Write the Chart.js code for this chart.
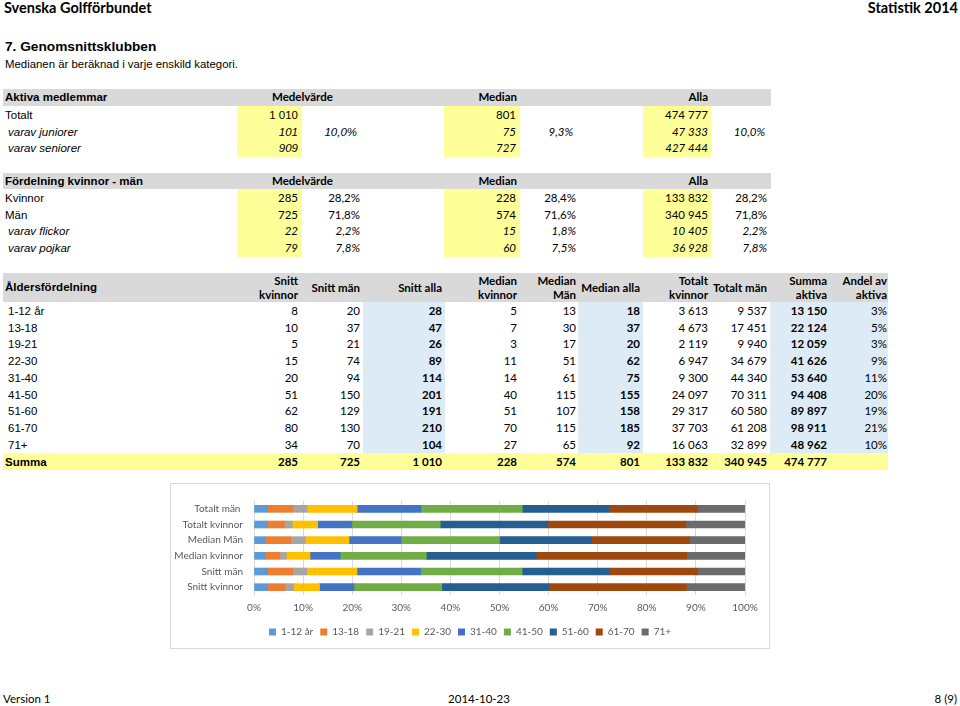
<!DOCTYPE html>
<html lang="sv">
<head>
<meta charset="utf-8">
<title>7. Genomsnittsklubben</title>
<script src="https://cdn.jsdelivr.net/npm/chart.js@4.4.1/dist/chart.umd.min.js"></script>
<style>
  body { margin: 0; background: #fff; }
  #sida { position: relative; width: 960px; height: 706px; overflow: hidden; font-family: 'Lato', sans-serif; color: #000; }
  .t { position: absolute; white-space: nowrap; height: 16px; line-height: 16px; }
  .arial { font-family: 'Liberation Sans', Arial, sans-serif; }
  .band { position: absolute; }
  #diagram { position: absolute; left: 170px; top: 483px; width: 598px; height: 164px; border: 1px solid #d9d9d9; background: #fff; }
</style>
</head>
<body>
<div id="sida">
  <div id="diagram"><canvas id="grafAlder" width="598" height="164"></canvas></div>
</div>
<script>
// Aktiva medlemmar
const aktivaEtiketter = ['Totalt', 'varav juniorer', 'varav seniorer'];
const aktivaMedel = ['1 010', '101', '909'];
const aktivaMedelAndel = ['', '10,0%', ''];
const aktivaMedian = ['801', '75', '727'];
const aktivaMedianAndel = ['', '9,3%', ''];
const aktivaAlla = ['474 777', '47 333', '427 444'];
const aktivaAllaAndel = ['', '10,0%', ''];

// Fördelning kvinnor - män
const fordelEtiketter = ['Kvinnor', 'Män', 'varav flickor', 'varav pojkar'];
const fordelMedel = ['285', '725', '22', '79'];
const fordelMedelAndel = ['28,2%', '71,8%', '2,2%', '7,8%'];
const fordelMedian = ['228', '574', '15', '60'];
const fordelMedianAndel = ['28,4%', '71,6%', '1,8%', '7,5%'];
const fordelAlla = ['133 832', '340 945', '10 405', '36 928'];
const fordelAllaAndel = ['28,2%', '71,8%', '2,2%', '7,8%'];

// Åldersfördelning
const aldersgrupper = ['1-12 år', '13-18', '19-21', '22-30', '31-40', '41-50', '51-60', '61-70', '71+'];
const snittKvinnor = [8, 10, 5, 15, 20, 51, 62, 80, 34];
const snittMan = [20, 37, 21, 74, 94, 150, 129, 130, 70];
const snittAlla = [28, 47, 26, 89, 114, 201, 191, 210, 104];
const medianKvinnor = [5, 7, 3, 11, 14, 40, 51, 70, 27];
const medianMan = [13, 30, 17, 51, 61, 115, 107, 115, 65];
const medianAlla = [18, 37, 20, 62, 75, 155, 158, 185, 92];
const totaltKvinnor = [3613, 4673, 2119, 6947, 9300, 24097, 29317, 37703, 16063];
const totaltMan = [9537, 17451, 9940, 34679, 44340, 70311, 60580, 61208, 32899];
const summaAktiva = [13150, 22124, 12059, 41626, 53640, 94408, 89897, 98911, 48962];
const andelAktiva = ['3%', '5%', '3%', '9%', '11%', '20%', '19%', '21%', '10%'];
const summaRad = ['285', '725', '1 010', '228', '574', '801', '133 832', '340 945', '474 777', ''];
const kolumnRubriker = ['Snitt|kvinnor', 'Snitt män', 'Snitt alla', 'Median|kvinnor', 'Median|Män', 'Median alla', 'Totalt|kvinnor', 'Totalt män', 'Summa|aktiva', 'Andel av|aktiva'];

// diagrammet
const diagramKategorier = ['Totalt män ', 'Totalt kvinnor', 'Median Män', 'Median kvinnor', 'Snitt män', 'Snitt kvinnor'];
const diagramSerier = [totaltMan, totaltKvinnor, medianMan, medianKvinnor, snittMan, snittKvinnor];
const xSteg = 10;

const farger = ['#5b9bd5', '#ed7d31', '#a5a5a5', '#ffc000', '#4472c4', '#70ad47', '#255e91', '#9e480e', '#6b6b6b'];

const sida = document.getElementById('sida');

function ruta(x, y, w, h, farg) {
  const d = document.createElement('div');
  d.className = 'band';
  Object.assign(d.style, { left: x + 'px', top: y + 'px', width: w + 'px', height: h + 'px', background: farg });
  sida.appendChild(d);
}

function text(s, x, cy, o = {}) {
  if (!s) return;
  const d = document.createElement('div');
  d.className = 't' + (o.arial ? ' arial' : '');
  d.textContent = s;
  d.style.top = (cy - 8) + 'px';
  if (o.right) d.style.right = (960 - x) + 'px';
  else if (o.center) { d.style.left = (x - 100) + 'px'; d.style.width = '200px'; d.style.textAlign = 'center'; }
  else d.style.left = x + 'px';
  d.style.fontSize = (o.size || 11.5) + 'px';
  if (o.bold) d.style.fontWeight = 'bold';
  if (o.italic) d.style.fontStyle = 'italic';
  sida.appendChild(d);
}

const tal = n => String(n).replace(/\B(?=(\d{3})+(?!\d))/g, ' ');

// bakgrunder
ruta(3, 89, 768, 17, '#d9d9d9');
ruta(237, 106, 65, 51, '#ffff99');
ruta(444, 106, 76, 51, '#ffff99');
ruta(643, 106, 68, 51, '#ffff99');

ruta(3, 173, 768, 16, '#d9d9d9');
ruta(237, 189, 65, 68, '#ffff99');
ruta(444, 189, 76, 68, '#ffff99');
ruta(643, 189, 68, 68, '#ffff99');

ruta(3, 273, 885, 29, '#d9d9d9');
ruta(363, 302, 82, 151, '#ddebf7');
ruta(578, 302, 65, 151, '#ddebf7');
ruta(770, 302, 118, 151, '#ddebf7');
ruta(3, 453, 885, 17, '#ffff99');

// sidhuvud
text('Svenska Golfförbundet', 4, 8, { bold: true, size: 14.5 });
text('Statistik 2014', 958, 8, { bold: true, size: 14.5, right: true });
text('7. Genomsnittsklubben', 5, 47, { arial: true, bold: true, size: 13.7 });
text('Medianen är beräknad i varje enskild kategori.', 5, 64, { arial: true, size: 11.4 });

// tabell 1
text('Aktiva medlemmar', 5, 97, { arial: true, bold: true });
text('Medelvärde', 272, 97, { bold: true });
text('Median', 517, 97, { bold: true, right: true });
text('Alla', 708, 97, { bold: true, right: true });
aktivaEtiketter.forEach((e, i) => {
  const y = 115 + i * 16.5;
  const it = i > 0;
  text(e, it ? 8 : 5, y, { arial: true, italic: it });
  text(aktivaMedel[i], 298, y, { arial: true, italic: it, right: true });
  text(aktivaMedelAndel[i], 357, y, { arial: true, italic: true, right: true });
  text(aktivaMedian[i], 516, y, { italic: it, right: true });
  text(aktivaMedianAndel[i], 573, y, { italic: true, right: true });
  text(aktivaAlla[i], 708, y, { italic: it, right: true });
  text(aktivaAllaAndel[i], 765, y, { italic: true, right: true });
});

// tabell 2
text('Fördelning kvinnor - män', 5, 181, { arial: true, bold: true });
text('Medelvärde', 272, 181, { bold: true });
text('Median', 517, 181, { bold: true, right: true });
text('Alla', 708, 181, { bold: true, right: true });
fordelEtiketter.forEach((e, i) => {
  const y = 198 + i * 16.7;
  const it = i > 1;
  text(e, it ? 8 : 5, y, { arial: true, italic: it });
  text(fordelMedel[i], 298, y, { italic: it, right: true });
  text(fordelMedelAndel[i], 360, y, { italic: it, right: true });
  text(fordelMedian[i], 516, y, { italic: it, right: true });
  text(fordelMedianAndel[i], 576, y, { italic: it, right: true });
  text(fordelAlla[i], 708, y, { italic: it, right: true });
  text(fordelAllaAndel[i], 767, y, { italic: it, right: true });
});

// tabell 3
const kolHoger = [298, 360, 442, 517, 576, 640, 708, 767, 827, 887];
const fetKol = [2, 5, 8];
text('Åldersfördelning', 5, 287, { arial: true, bold: true });
kolumnRubriker.forEach((r, k) => {
  const delar = r.split('|');
  if (delar.length === 2) {
    text(delar[0], kolHoger[k], 281, { bold: true, right: true });
    text(delar[1], kolHoger[k], 295, { bold: true, right: true });
  } else {
    text(r, kolHoger[k], 288, { bold: true, right: true });
  }
});
const kolumner = [snittKvinnor, snittMan, snittAlla, medianKvinnor, medianMan, medianAlla, totaltKvinnor, totaltMan, summaAktiva, andelAktiva];
aldersgrupper.forEach((g, i) => {
  const y = 311 + i * 16.7;
  text(g, 8, y, { arial: true });
  kolumner.forEach((kol, k) => {
    text(tal(kol[i]), kolHoger[k], y, { right: true, bold: fetKol.includes(k) });
  });
});
text('Summa', 5, 462, { arial: true, bold: true });
summaRad.forEach((v, k) => text(v, kolHoger[k], 462, { right: true, bold: true }));

// sidfot
text('Version 1', 3, 699);
text('2014-10-23', 479, 699, { center: true });
text('8 (9)', 957, 699, { right: true });

// 100 % staplat diagram
const andelar = diagramSerier.map(s => {
  const summa = s.reduce((a, b) => a + b, 0);
  return s.map(v => v / summa * 100);
});

const centreraLegend = {
  id: 'centreraLegend',
  afterLayout(chart) {
    const lg = chart.legend;
    const d = chart.width / 2 - (lg.left + lg.right) / 2;
    lg.left += d;
    lg.right += d;
  }
};

const axelFont = { family: 'Lato', size: 10 };

new Chart(document.getElementById('grafAlder').getContext('2d'), {
  type: 'bar',
  data: {
    labels: diagramKategorier,
    datasets: aldersgrupper.map((g, i) => ({
      label: g,
      data: andelar.map(a => a[i]),
      backgroundColor: farger[i],
      barThickness: 7
    }))
  },
  options: {
    indexAxis: 'y',
    responsive: false,
    animation: false,
    layout: { padding: { top: 12, right: 24, bottom: 1, left: 0 } },
    plugins: {
      legend: {
        position: 'bottom',
        labels: { boxWidth: 7, boxHeight: 7, padding: 7, color: '#595959', font: axelFont }
      },
      tooltip: { enabled: false }
    },
    scales: {
      x: {
        stacked: true,
        min: 0,
        max: 100,
        ticks: { stepSize: xSteg, callback: v => v + '%', color: '#595959', font: axelFont, padding: 7 },
        grid: { color: '#d9d9d9', drawTicks: false },
        border: { display: false },
        afterFit: s => { s.height = 25; }
      },
      y: {
        stacked: true,
        ticks: { color: '#595959', font: axelFont, padding: 11 },
        grid: { display: false, drawTicks: false },
        border: { display: false },
        afterFit: s => { s.width = 83; }
      }
    }
  },
  plugins: [centreraLegend]
});
</script>
</body>
</html>
